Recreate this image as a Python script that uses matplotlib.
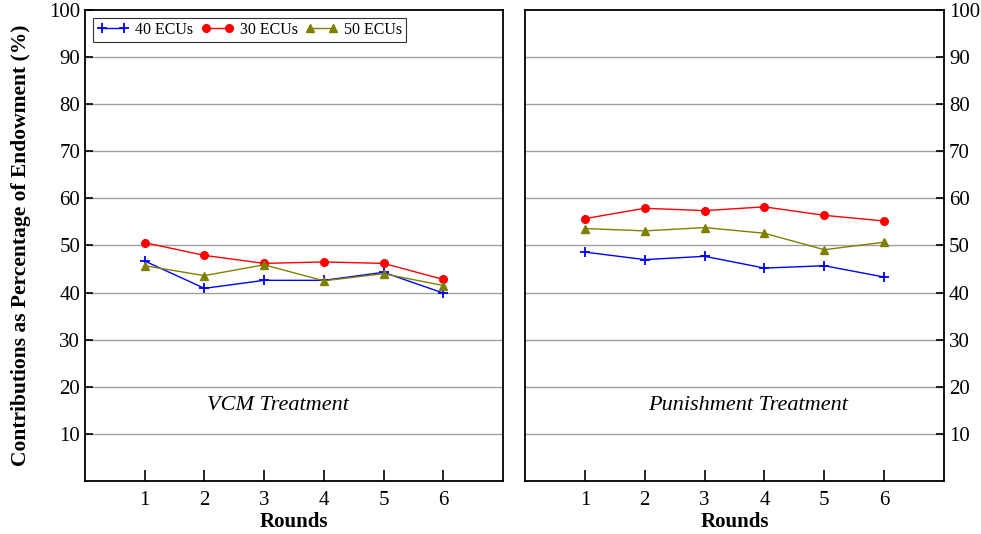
import matplotlib
matplotlib.use("Agg")
import matplotlib.pyplot as plt

rounds = [1, 2, 3, 4, 5, 6]
vcm_40 = [46.7, 40.9, 42.6, 42.6, 44.3, 39.9]
vcm_30 = [50.6, 47.9, 46.2, 46.5, 46.2, 42.8]
vcm_50 = [45.7, 43.6, 45.9, 42.5, 44.0, 41.5]
pun_40 = [48.6, 47.0, 47.7, 45.2, 45.7, 43.3]
pun_30 = [55.7, 57.9, 57.4, 58.2, 56.4, 55.2]
pun_50 = [53.6, 53.1, 53.8, 52.6, 49.1, 50.7]
yticks = [10, 20, 30, 40, 50, 60, 70, 80, 90, 100]

plt.rcParams['font.family'] = ['Liberation Serif', 'DejaVu Serif']

fig = plt.figure(figsize=(9.81, 5.34), dpi=100)
ax1 = fig.add_axes([0.0866, 0.0993, 0.4261, 0.882])
ax2 = fig.add_axes([0.5352, 0.0993, 0.4271, 0.882])

def style(ax, right=False):
    ax.set_xlim(0, 7)
    ax.set_ylim(0, 100)
    ax.set_xticks(rounds)
    ax.set_yticks(yticks)
    for v in yticks[:-1]:
        ax.axhline(v, color='#a0a0a0', lw=1.0, zorder=0)
    for s in ax.spines.values():
        s.set_linewidth(1.3)
        s.set_color('black')
    ax.tick_params(direction='in', length=6, width=1.2, labelsize=15)
    ax.tick_params(axis='x', length=8, pad=7)
    if right:
        ax.yaxis.tick_right()
    ax.set_xlabel('Rounds', fontsize=15, fontweight='bold', labelpad=2)

def plot(ax, s40, s30, s50):
    l1, = ax.plot(rounds, s40, color='blue', marker='+', ms=7, mew=1.3, lw=1, label='40 ECUs')
    l2, = ax.plot(rounds, s30, color='red', marker='o', ms=5.5, lw=1, label='30 ECUs')
    l3, = ax.plot(rounds, s50, color='#808000', marker='^', ms=6, lw=1, label='50 ECUs')
    return [l1, l2, l3]

handles = plot(ax1, vcm_40, vcm_30, vcm_50)
plot(ax2, pun_40, pun_30, pun_50)
style(ax1)
style(ax2, right=True)

ax1.set_ylabel('Contributions as Percentage of Endowment (%)', fontsize=15.5, fontweight='bold', labelpad=13)
ax1.text(2.05, 16, 'VCM Treatment', fontsize=16, style='italic', va='center', ha='left')
ax2.text(2.05, 16, 'Punishment Treatment', fontsize=16, style='italic', va='center', ha='left')

leg = ax1.legend(handles=handles, loc='upper left', ncol=3, fontsize=11.5, frameon=True,
                 fancybox=False, edgecolor='black', handlelength=2.0, handletextpad=0.4,
                 columnspacing=0.5, borderpad=0.25, borderaxespad=0.5, numpoints=2)
leg.get_frame().set_linewidth(0.8)

fig.savefig('out.png', dpi=100)
